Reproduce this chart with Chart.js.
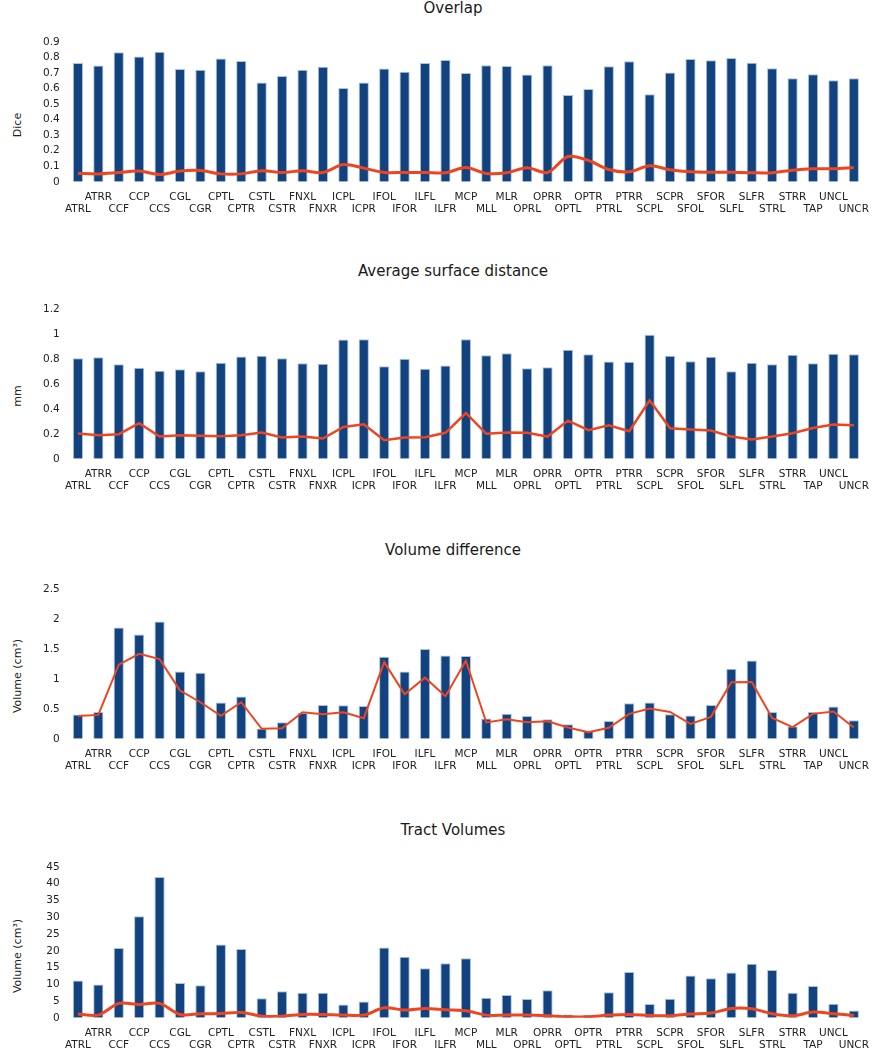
<!DOCTYPE html>
<html lang="en">
<head>
<meta charset="UTF-8">
<title>Tract segmentation metrics</title>
<script src="https://cdn.jsdelivr.net/npm/chart.js"></script>
<style>
    body { margin: 0; width: 878px; height: 1050px; position: relative; overflow: hidden; background: #fff; font-family: 'DejaVu Sans', sans-serif; }
    canvas { position: absolute; left: 0; }
    .titulo { position: absolute; left: 453px; transform: translate(-50%, -50%); font-size: 15px; color: #1a1a1a; white-space: nowrap; }
    .ylab { position: absolute; left: 17px; transform: translate(-50%, -50%) rotate(-90deg); font-size: 11px; color: #222; white-space: nowrap; }
</style>
</head>
<body>

<div class="titulo" style="top:8px">Overlap</div>
<div class="ylab" style="top:125px">Dice</div>
<canvas id="c1" width="878" height="226" style="top:0px"></canvas>

<div class="titulo" style="top:271px">Average surface distance</div>
<div class="ylab" style="top:396px">mm</div>
<canvas id="c2" width="878" height="241" style="top:262px"></canvas>

<div class="titulo" style="top:550px">Volume difference</div>
<div class="ylab" style="top:676px">Volume (cm³)</div>
<canvas id="c3" width="878" height="242" style="top:541px"></canvas>

<div class="titulo" style="top:830px">Tract Volumes</div>
<div class="ylab" style="top:956px">Volume (cm³)</div>
<canvas id="c4" width="878" height="241" style="top:821px"></canvas>

<script>
const tracts = ['ATRL','ATRR','CCF','CCP','CCS','CGL','CGR','CPTL','CPTR','CSTL',
    'CSTR','FNXL','FNXR','ICPL','ICPR','IFOL','IFOR','ILFL','ILFR','MCP',
    'MLL','MLR','OPRL','OPRR','OPTL','OPTR','PTRL','PTRR','SCPL','SCPR',
    'SFOL','SFOR','SLFL','SLFR','STRL','STRR','TAP','UNCL','UNCR'];

// Overlap (Dice): mean bars + std line
const diceMean = [0.765,0.748,0.834,0.806,0.838,0.726,0.722,0.793,0.778,0.639,
    0.681,0.722,0.741,0.604,0.639,0.729,0.709,0.765,0.784,0.701,
    0.750,0.746,0.690,0.750,0.559,0.598,0.744,0.776,0.564,0.703,
    0.791,0.782,0.797,0.767,0.731,0.666,0.692,0.654,0.666];
const diceStd = [0.054,0.051,0.060,0.069,0.047,0.069,0.073,0.051,0.051,0.071,
    0.060,0.071,0.060,0.111,0.088,0.060,0.060,0.060,0.058,0.092,
    0.054,0.058,0.090,0.060,0.163,0.137,0.079,0.064,0.103,0.077,
    0.064,0.062,0.062,0.058,0.058,0.075,0.084,0.084,0.092];

// Average surface distance (mm)
const asdMean = [0.806,0.814,0.758,0.729,0.705,0.718,0.702,0.769,0.820,0.825,
    0.806,0.766,0.761,0.955,0.958,0.742,0.801,0.721,0.748,0.958,
    0.830,0.846,0.726,0.734,0.873,0.838,0.780,0.777,0.993,0.825,
    0.782,0.817,0.702,0.769,0.758,0.833,0.766,0.841,0.838];
const asdStd = [0.202,0.189,0.197,0.285,0.178,0.189,0.184,0.181,0.189,0.210,
    0.170,0.178,0.162,0.255,0.277,0.149,0.170,0.173,0.208,0.367,
    0.200,0.210,0.208,0.178,0.306,0.229,0.269,0.221,0.468,0.245,
    0.234,0.226,0.178,0.154,0.178,0.205,0.247,0.274,0.269];

// Volume difference (cm³)
const volDiffMean = [0.405,0.449,1.857,1.741,1.957,1.125,1.103,0.604,0.704,0.172,
    0.277,0.432,0.565,0.560,0.549,1.369,1.125,1.497,1.391,1.380,
    0.338,0.416,0.382,0.327,0.244,0.139,0.299,0.593,0.604,0.410,
    0.388,0.565,1.170,1.308,0.449,0.211,0.449,0.538,0.310];
const volDiffStd = [0.382,0.399,1.236,1.419,1.330,0.804,0.610,0.382,0.610,0.166,
    0.177,0.443,0.410,0.443,0.344,1.280,0.743,1.020,0.710,1.303,
    0.272,0.327,0.277,0.294,0.188,0.111,0.183,0.416,0.505,0.449,
    0.249,0.366,0.942,0.948,0.349,0.194,0.416,0.455,0.188];

// Tract volumes (cm³)
const volMean = [11.1,9.9,20.8,30.3,42.0,10.4,9.7,21.9,20.5,5.8,
    7.9,7.5,7.5,4.0,4.9,21.0,18.2,14.8,16.3,17.8,
    6.0,6.8,5.6,8.2,1.0,0.8,7.6,13.7,4.1,5.7,
    12.6,11.8,13.5,16.1,14.3,7.5,9.5,4.2,2.2];
const volStd = [1.1,0.8,4.3,4.0,4.3,1.0,1.2,1.3,1.6,0.5,
    0.5,1.0,1.0,0.8,0.8,3.0,2.3,2.8,2.4,2.1,
    0.8,0.8,0.8,0.6,0.3,0.3,0.8,1.0,0.7,0.6,
    1.1,1.4,2.8,2.7,1.2,0.6,1.7,1.2,0.7];

const fuente = { family: "'DejaVu Sans', sans-serif", size: 10.5 };
const colorTexto = '#222';

// dibuja un panel: barras + linea
function crearPanel(id, medias, desv, maxY, paso, padTop, grosor, curva) {
    const ctx = document.getElementById(id).getContext('2d');
    return new Chart(ctx, {
        type: 'bar',
        data: {
            labels: tracts,
            datasets: [{
                type: 'line',
                data: desv,
                borderColor: '#f0441f',
                borderWidth: grosor,
                pointRadius: 0,
                tension: curva,
                order: 0
            }, {
                type: 'bar',
                data: medias,
                backgroundColor: '#12437f',
                borderColor: '#a9c2e2',
                borderWidth: 1,
                categoryPercentage: 1,
                barPercentage: 0.5,
                order: 1
            }]
        },
        options: {
            responsive: false,
            animation: false,
            layout: { padding: { top: padTop, right: 5.7, bottom: 1, left: 0 } },
            plugins: { legend: { display: false }, tooltip: { enabled: false } },
            scales: {
                x: {
                    grid: { display: false, drawTicks: false },
                    border: { display: false },
                    ticks: {
                        autoSkip: false, maxRotation: 0, minRotation: 0,
                        padding: 9, color: colorTexto, font: fuente,
                        callback: (v, i) => i % 2 ? [tracts[i]] : ['', tracts[i]]
                    }
                },
                y: {
                    min: 0, max: maxY,
                    grid: { display: false, drawTicks: false },
                    border: { display: false },
                    afterFit: s => { s.width = 67.7; },
                    ticks: {
                        autoSkip: false,
                        stepSize: paso, padding: 8, color: colorTexto, font: fuente,
                        callback: v => String(Number(v.toFixed(2)))
                    }
                }
            }
        }
    });
}

crearPanel('c1', diceMean, diceStd, 0.9, 0.1, 42, 3, 0.3);
crearPanel('c2', asdMean, asdStd, 1.2, 0.2, 47, 2.5, 0);
crearPanel('c3', volDiffMean, volDiffStd, 2.5, 0.5, 48, 2, 0);
crearPanel('c4', volMean, volStd, 45, 5, 46, 3, 0.3);
</script>
</body>
</html>
